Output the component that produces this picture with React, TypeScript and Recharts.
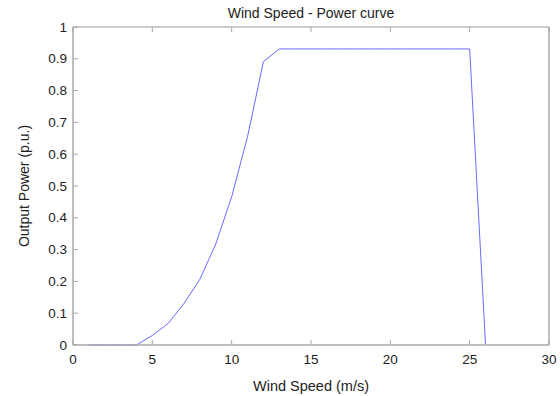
import React from 'react'
import { LineChart, Line, XAxis, YAxis, Label } from 'recharts'

const windSpeed = [1, 2, 3, 4, 5, 6, 7, 8, 9, 10, 11, 12, 13, 14, 15, 16, 17, 18, 19, 20, 21, 22, 23, 24, 25, 26]
const outputPower = [0, 0, 0, 0, 0.03, 0.068, 0.131, 0.207, 0.318, 0.466, 0.655, 0.891, 0.931, 0.931, 0.931, 0.931, 0.931, 0.931, 0.931, 0.931, 0.931, 0.931, 0.931, 0.931, 0.931, 0]
const xTicks = [0, 5, 10, 15, 20, 25, 30]
const yTicks = [0, 0.1, 0.2, 0.3, 0.4, 0.5, 0.6, 0.7, 0.8, 0.9, 1]

const data = windSpeed.map((w, i) => ({ w, p: outputPower[i] }))

const FONT = '"Liberation Sans", Arial, sans-serif'
const AXIS = '#a9a9a9'
const TICK = 5

const BottomTick = (props: any) => {
  const { x, y, payload } = props
  return (
    <g>
      <line x1={x} y1={y} x2={x} y2={y - TICK} stroke={AXIS} />
      <text x={x} y={y + 19} textAnchor='middle' fontSize={13.5} fontFamily={FONT} fill='#222'>
        {payload.value}
      </text>
    </g>
  )
}

const TopTick = (props: any) => {
  const { x, y } = props
  return <line x1={x} y1={y} x2={x} y2={y + TICK} stroke={AXIS} />
}

const LeftTick = (props: any) => {
  const { x, y, payload } = props
  return (
    <g>
      <line x1={x} y1={y} x2={x + TICK} y2={y} stroke={AXIS} />
      <text x={x - 6} y={y + 4.5} textAnchor='end' fontSize={13.5} fontFamily={FONT} fill='#222'>
        {payload.value}
      </text>
    </g>
  )
}

const RightTick = (props: any) => {
  const { x, y } = props
  return <line x1={x} y1={y} x2={x - TICK} y2={y} stroke={AXIS} />
}

export default function App() {
  return (
    <div style={{ position: 'absolute', left: 0, top: 0, width: 560, height: 396, background: '#fff' }}>
      <LineChart width={560} height={396} data={data} margin={{ top: 26, right: 10, bottom: 21, left: 33 }}>
        <XAxis
          dataKey='w'
          type='number'
          domain={[0, 30]}
          ticks={xTicks}
          interval={0}
          height={30}
          tickSize={0}
          tickMargin={0}
          tickLine={false}
          axisLine={{ stroke: AXIS, strokeWidth: 1.5 }}
          tick={<BottomTick />}
        >
          <Label
            value='Wind Speed (m/s)'
            position='bottom'
            offset={6}
            style={{ fontSize: 14.5, fontFamily: FONT, fill: '#222' }}
          />
        </XAxis>
        <XAxis
          xAxisId='top'
          orientation='top'
          dataKey='w'
          type='number'
          domain={[0, 30]}
          ticks={xTicks}
          interval={0}
          height={1}
          tickSize={0}
          tickMargin={0}
          tickLine={false}
          axisLine={{ stroke: '#999', strokeWidth: 1 }}
          tick={<TopTick />}
        >
          <Label
            value='Wind Speed - Power curve'
            position='top'
            offset={8}
            style={{ fontSize: 14, fontFamily: FONT, fill: '#222' }}
          />
        </XAxis>
        <YAxis
          type='number'
          domain={[0, 1]}
          ticks={yTicks}
          interval={0}
          width={40}
          tickSize={0}
          tickMargin={0}
          tickLine={false}
          axisLine={{ stroke: AXIS, strokeWidth: 1.5 }}
          tick={<LeftTick />}
        >
          <Label
            value='Output Power (p.u.)'
            angle={-90}
            position='insideLeft'
            offset={-9}
            style={{ textAnchor: 'middle', fontSize: 14, fontFamily: FONT, fill: '#222' }}
          />
        </YAxis>
        <YAxis
          yAxisId='right'
          orientation='right'
          type='number'
          domain={[0, 1]}
          ticks={yTicks}
          interval={0}
          width={1}
          tickSize={0}
          tickMargin={0}
          tickLine={false}
          axisLine={{ stroke: AXIS, strokeWidth: 1.5 }}
          tick={<RightTick />}
        />
        <Line
          dataKey='p'
          type='linear'
          stroke='#6a6aff'
          strokeWidth={1}
          dot={false}
          isAnimationActive={false}
        />
      </LineChart>
    </div>
  )
}
